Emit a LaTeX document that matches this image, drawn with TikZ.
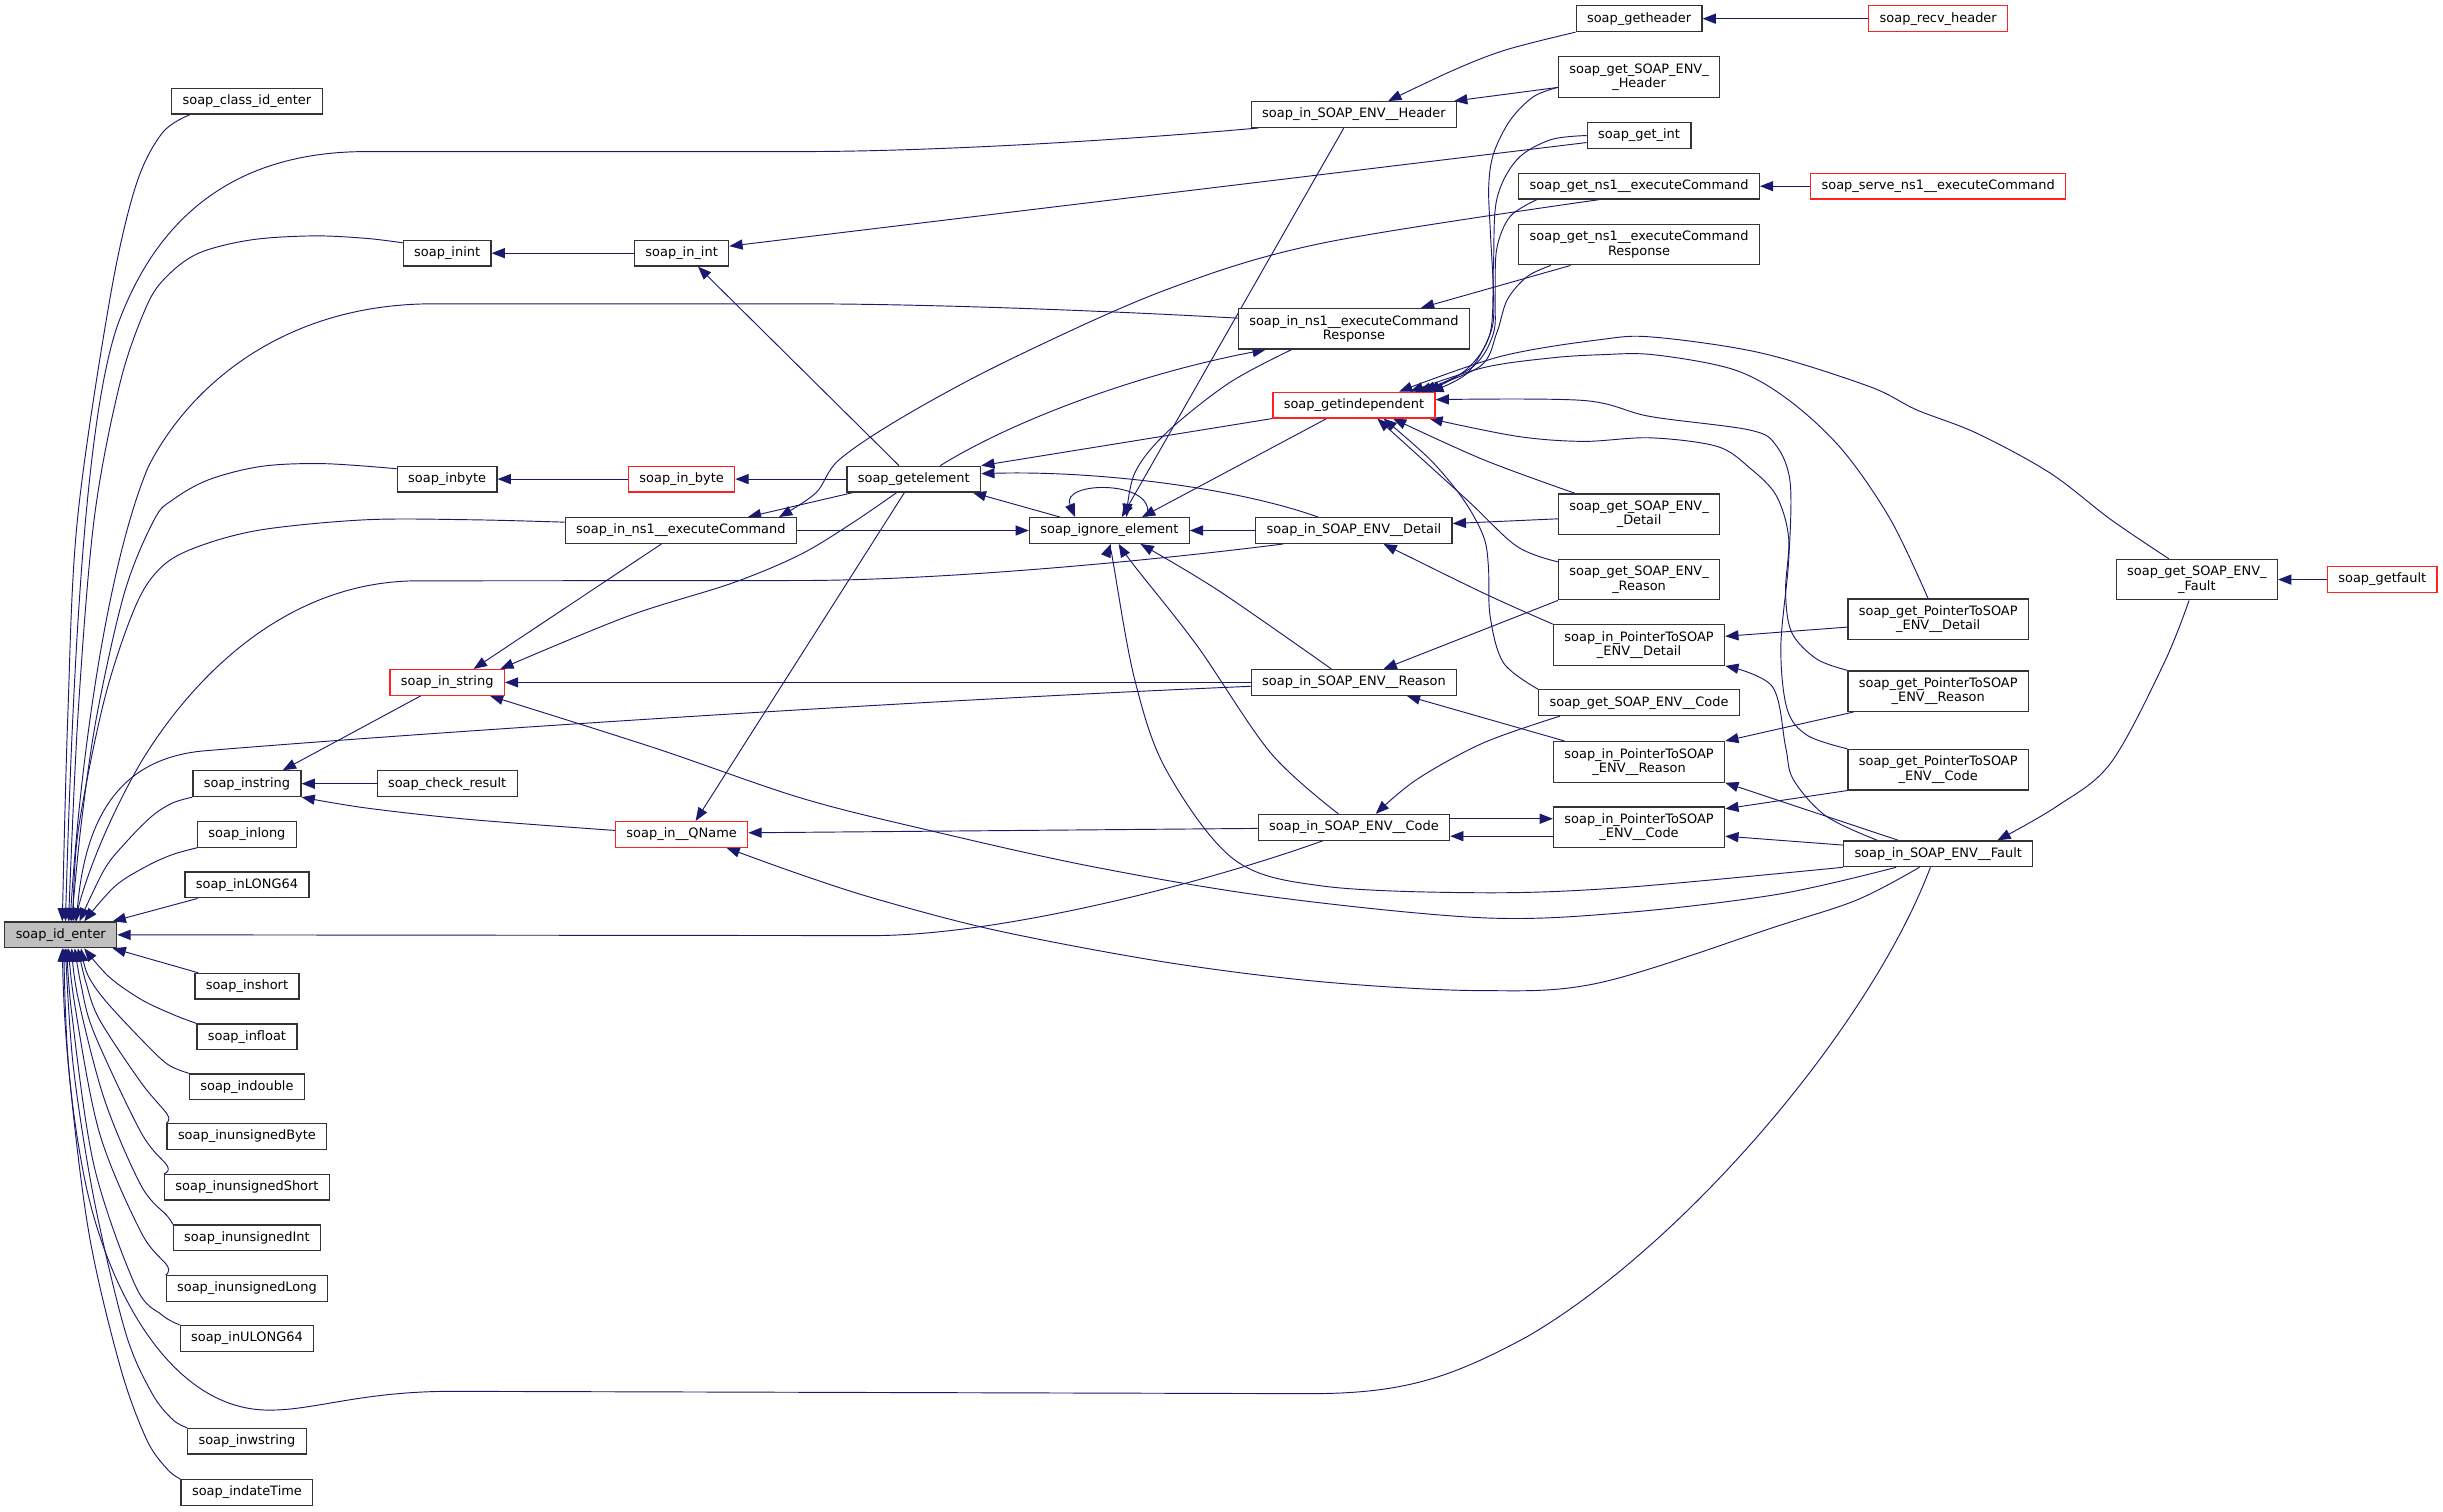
\documentclass[tikz,border=0pt]{standalone}
\usepackage{fontspec}
\setmainfont{DejaVu Sans}
\usetikzlibrary{arrows.meta}
\definecolor{edgeblue}{HTML}{191970}
\definecolor{boxline}{HTML}{333333}
\definecolor{hotred}{HTML}{FF2020}
\definecolor{idfill}{HTML}{BFBFBF}
\newcommand\fnsize{\fontsize{8.3}{9.3}\selectfont}
\pgfdeclarelayer{bg}
\pgfsetlayers{bg,main}
\begin{document}
\begin{tikzpicture}[x=1pt,y=-1pt,
 fn/.style={draw=boxline, line width=0.8pt, fill=white, font=\fnsize, inner xsep=7pt, inner ysep=0pt, minimum height=16.5pt, align=center},
 hot/.style={draw=hotred},
 two/.style={minimum height=26pt},
 calls/.style={draw=edgeblue, line width=0.6pt, -{Triangle[length=8.5pt,width=6.5pt]}},
 sm/.style={smooth, tension=0.55}]
\useasboundingbox (0,0) rectangle (1568,970.4);
% ---------- nodes ----------
\node[fn, fill=idfill] (identer) at (39,600) {soap\_id\_enter};
\node[fn] (classid) at (158.5,65) {soap\_class\_id\_enter};
\node[fn] (inint) at (287,162.5) {soap\_inint};
\node[fn] (inint2) at (437.5,162.5) {soap\_in\_int};
\node[fn] (inbyte) at (287,307.5) {soap\_inbyte};
\node[fn,hot] (inbyte2) at (437.5,307.5) {soap\_in\_byte};
\node[fn] (getel) at (586.5,307.5) {soap\_getelement};
\node[fn] (inexec) at (437,340.5) {soap\_in\_ns1\_\_executeCommand};
\node[fn,hot] (instr) at (287,438) {soap\_in\_string};
\node[fn] (instring) at (158.5,503) {soap\_instring};
\node[fn] (check) at (287,503) {soap\_check\_result};
\node[fn,hot] (qname) at (437.5,535.5) {soap\_in\_\_QName};
\node[fn] (inlong) at (158.5,535.5) {soap\_inlong};
\node[fn] (inL64) at (158.5,568) {soap\_inLONG64};
\node[fn] (inshort) at (158.5,633) {soap\_inshort};
\node[fn] (infloat) at (158.5,665.5) {soap\_infloat};
\node[fn] (indouble) at (158.5,697.5) {soap\_indouble};
\node[fn] (inuByte) at (158.5,729.5) {soap\_inunsignedByte};
\node[fn] (inuShort) at (158.5,762) {soap\_inunsignedShort};
\node[fn] (inuInt) at (158.5,794.5) {soap\_inunsignedInt};
\node[fn] (inuLong) at (158.5,827) {soap\_inunsignedLong};
\node[fn] (inUL64) at (158.5,859) {soap\_inULONG64};
\node[fn] (inwstr) at (158.5,925) {soap\_inwstring};
\node[fn] (indate) at (158.5,958) {soap\_indateTime};
\node[fn] (ignore) at (712,340.5) {soap\_ignore\_element};
\node[fn] (hdr) at (869,73.5) {soap\_in\_SOAP\_ENV\_\_Header};
\node[fn,two] (resp) at (869,211) {soap\_in\_ns1\_\_executeCommand\\Response};
\node[fn,hot] (getind) at (869,260) {soap\_getindependent};
\node[fn] (detail) at (869,340.5) {soap\_in\_SOAP\_ENV\_\_Detail};
\node[fn] (reason) at (869,438) {soap\_in\_SOAP\_ENV\_\_Reason};
\node[fn] (code) at (869,531) {soap\_in\_SOAP\_ENV\_\_Code};
\node[fn] (gethdr) at (1052,12) {soap\_getheader};
\node[fn,two] (getSEH) at (1052,49.5) {soap\_get\_SOAP\_ENV\_\\\_Header};
\node[fn] (getint) at (1052,87) {soap\_get\_int};
\node[fn] (getexec) at (1052,119.5) {soap\_get\_ns1\_\_executeCommand};
\node[fn,two] (getresp) at (1052,157) {soap\_get\_ns1\_\_executeCommand\\Response};
\node[fn,two] (getSED) at (1052,330) {soap\_get\_SOAP\_ENV\_\\\_Detail};
\node[fn,two] (getSER) at (1052,372) {soap\_get\_SOAP\_ENV\_\\\_Reason};
\node[fn,two] (inPD) at (1052,414) {soap\_in\_PointerToSOAP\\\_ENV\_\_Detail};
\node[fn] (getSEC) at (1052,451) {soap\_get\_SOAP\_ENV\_\_Code};
\node[fn,two] (inPR) at (1052,489) {soap\_in\_PointerToSOAP\\\_ENV\_\_Reason};
\node[fn,two] (inPC) at (1052,531) {soap\_in\_PointerToSOAP\\\_ENV\_\_Code};
\node[fn,hot] (recv) at (1244,12) {soap\_recv\_header};
\node[fn,hot] (serve) at (1244,119.5) {soap\_serve\_ns1\_\_executeCommand};
\node[fn,two] (getPD) at (1244,397.5) {soap\_get\_PointerToSOAP\\\_ENV\_\_Detail};
\node[fn,two] (getPR) at (1244,443.6) {soap\_get\_PointerToSOAP\\\_ENV\_\_Reason};
\node[fn,two] (getPC) at (1244,494) {soap\_get\_PointerToSOAP\\\_ENV\_\_Code};
\node[fn] (fault) at (1244,548) {soap\_in\_SOAP\_ENV\_\_Fault};
\node[fn,two] (getSEF) at (1410,372) {soap\_get\_SOAP\_ENV\_\\\_Fault};
\node[fn,hot] (getfault) at (1529,372) {soap\_getfault};
% ---------- edges ----------
\begin{pgfonlayer}{bg}
\fill[white] (0,0) rectangle (1568,970.4);
% callers of soap_id_enter (above)
\draw[calls] plot[sm] coordinates {([xshift=12pt]classid.south west) (104,85.5) (87,119.7) (70.5,192) (49.7,333.5) (43.5,460) ([xshift=1pt]identer.north)};
\draw[calls] ([xshift=5pt]hdr.south west) .. controls (720,90) and (600,97.3) .. (513,97.3) -- (235,97.3) .. controls (150,97.3) and (100,140) .. (75,210) .. controls (55,270) and (47,420) .. ([xshift=3pt]identer.north);
\draw[calls] plot[sm] coordinates {([yshift=-2pt]inint.north west) (235,153) (201,151.4) (161,154) (127.5,162.5) (107,177.5) (94,196.7) (77,246) (60.4,333.5) (50,460) ([xshift=5pt]identer.north)};
\draw[calls] ([yshift=-6.6pt]resp.north west) .. controls (720,200) and (600,195) .. (513,195) -- (278,195) .. controls (180,195) and (120,250) .. (95,300) .. controls (70,360) and (52,480) .. ([xshift=6pt]identer.north);
\draw[calls] plot[sm] coordinates {([yshift=-2pt]inbyte.north west) (208,297.6) (168,299.3) (134,307.9) (111,320.7) (99,333.5) (80,380) (62,460) (52,530) ([xshift=7pt]identer.north)};
\draw[calls] plot[sm] coordinates {([yshift=-3.3pt]inexec.north west) (302,333.6) (235,333.6) (168,340) (127.5,350.7) (104,363.6) (87,389) (67,449) (50,534.6) ([xshift=8pt]identer.north)};
\draw[calls] ([xshift=18pt]detail.south west) .. controls (730,361) and (600,372.6) .. (513,372.6) -- (268,372.8) .. controls (180,373) and (120,440) .. (90,490) .. controls (70,525) and (56,560) .. ([xshift=9pt]identer.north);
\draw[calls] ([yshift=-2.5pt]reason.west) .. controls (600,449) and (300,468) .. (130,482) .. controls (80,487) and (55,520) .. ([xshift=10pt]identer.north);
\draw[calls] plot[sm] coordinates {(instring.south west) (110.7,515.4) (97.3,524) (80.5,541) (67,558) ([xshift=12pt]identer.north)};
\draw[calls] plot[sm] coordinates {(inlong.south west) (110.7,548.5) (94,556) (73.8,568.8) ([xshift=15pt]identer.north)};
\draw[calls] ([xshift=8.5pt]inL64.south west) -- ([xshift=-3pt]identer.north east);
\draw[calls] ([xshift=-20pt]code.south) .. controls (770,568) and (640,600.5) .. (560,600.5) -- (identer.east);
% callers of soap_id_enter (below)
\draw[calls] ([xshift=2.5pt]inshort.north west) -- ([xshift=-3pt]identer.south east);
\draw[calls] plot[sm] coordinates {(infloat.north west) (110.7,651) (90.6,641.5) (70,627) ([xshift=15pt]identer.south)};
\draw[calls] plot[sm] coordinates {(indouble.north west) (107.4,683) (90.6,667) (67,641.5) (56,625) ([xshift=13pt]identer.south)};
\draw[calls] plot[sm] coordinates {(inuByte.north west) (107.4,715.3) (90.6,694.9) (63.8,654.3) (55,630) ([xshift=11pt]identer.south)};
\draw[calls] plot[sm] coordinates {(inuShort.north west) (107.4,748.4) (90.6,727) (60.4,663) (52,632) ([xshift=9pt]identer.south)};
\draw[calls] plot[sm] coordinates {(inuInt.north west) (107.4,780.5) (90.6,761) (67,705.6) (50,640) ([xshift=7pt]identer.south)};
\draw[calls] plot[sm] coordinates {(inuLong.north west) (107.4,812.5) (90.6,791) (63.8,727) (48,645) ([xshift=5pt]identer.south)};
\draw[calls] plot[sm] coordinates {(inUL64.north west) (104,844) (87,825.4) (60.4,748.4) (46,650) ([xshift=4pt]identer.south)};
\draw[calls] ([xshift=-5pt]fault.south) .. controls (1200,660) and (1080,800) .. (980,858) .. controls (930,885) and (900,894.5) .. (840,894.5) -- (290,893) .. controls (230,893) and (200,906) .. (170,905) .. controls (110,903) and (70,830) .. (55,760) .. controls (45,712) and (41,660) .. ([xshift=1pt]identer.south);
\draw[calls] plot[sm] coordinates {(inwstr.north west) (110.7,911) (97.3,893.8) (80.5,855) (60.4,770) (47,684) ([xshift=3pt]identer.south)};
\draw[calls] plot[sm] coordinates {(indate.north west) (107.4,943) (94,923.7) (77,876.7) (57,791) (44,684) ([xshift=2pt]identer.south)};
% int / byte chains
\draw[calls] (inint2.west) -- (inint.east);
\draw[calls] ([yshift=-4.5pt]getint.west) -- ([yshift=4.5pt]inint2.east);
\draw[calls] ([xshift=-9.5pt]getel.north) -- ([xshift=10.5pt]inint2.south);
\draw[calls] (inbyte2.west) -- (inbyte.east);
\draw[calls] (getel.west) -- (inbyte2.east);
% getelement
\draw[calls] (getind.south west) -- (getel.north east);
\draw[calls] ([xshift=-31.7pt]ignore.north) -- ([xshift=37.8pt]getel.south);
\draw[calls] ([xshift=-23pt]detail.north) .. controls (790,312) and (700,302) .. ([yshift=3.5pt]getel.east);
\draw[calls] ([xshift=17pt]getel.north) .. controls (650,270) and (730,240) .. ([xshift=18pt]resp.south west);
\draw[calls] ([xshift=-44pt]getresp.south) -- ([xshift=43pt]resp.north);
% ignore_element
\draw[calls] plot[sm] coordinates {([xshift=-40pt]resp.south) (788.7,245.9) (748.4,278) (728.3,303.6) ([xshift=11pt]ignore.north)};
\draw[calls] ([xshift=-6.5pt]hdr.south) -- ([xshift=8pt]ignore.north);
\draw[calls] ([xshift=-17.5pt]getind.south) -- ([xshift=21pt]ignore.north);
\draw[calls] (inexec.east) -- (ignore.west);
\draw[calls] (detail.west) -- (ignore.east);
\draw[calls] plot[sm] coordinates {([xshift=-14.5pt]reason.north) (782,379) ([xshift=20pt]ignore.south)};
\draw[calls] plot[sm] coordinates {([xshift=-10pt]code.north) (815.5,483.2) (768.6,414.8) (728.3,363.5) ([xshift=6pt]ignore.south)};
\draw[calls] plot[sm] coordinates {(fault.south west) (1040,569.8) (950,573) (849,568.7) (792,551.6) (748.4,494) (728.3,436.2) (714.9,363.5) ([xshift=1pt]ignore.south)};
\draw[calls] ([xshift=24pt]ignore.north) .. controls (744,308) and (680,308) .. ([xshift=-22pt]ignore.north);
% getindependent callers
\draw[calls] plot[sm] coordinates {([yshift=-20pt]getSEH.north west) (984.3,62) (969.4,77) (958.7,98.3) (955.5,119.7) (956.6,149.7) (958.7,192.4) (956.6,213.8) (941.7,239.5) ([xshift=49pt]getind.north)};
\draw[calls] ([yshift=-20pt]getSEH.north west) -- ([xshift=-2pt]hdr.north east);
\draw[calls] plot[sm] coordinates {(getint.west) (994.9,89.8) (973.5,102.6) (960.6,128.3) (958.5,171) (956.4,213.8) (941.4,237) ([xshift=47pt]getind.north)};
\draw[calls] plot[sm] coordinates {([xshift=12pt]getexec.south west) (969.2,139) (960.6,160) (959.6,192) (958.5,214) (945.7,235) ([xshift=44pt]getind.north)};
\draw[calls] plot[sm] coordinates {([xshift=52pt]getexec.south west) (849,156) (748.4,186) (647.7,231) (580.6,267) (538.7,295) (523.6,316.4) ([xshift=63pt]inexec.north)};
\draw[calls] plot[sm] coordinates {([xshift=21pt]getresp.south west) (980.2,177.5) (967.4,192.4) (960.6,213.8) (949.9,235.2) ([xshift=41pt]getind.north)};
\draw[calls] plot[sm] coordinates {([xshift=11pt]getSED.north west) (952,295) ([xshift=25pt]getind.south)};
\draw[calls] ([yshift=-3pt]getSED.west) -- ([yshift=4.5pt]detail.east);
\draw[calls] plot[sm] coordinates {([yshift=-2pt]getSER.north west) (973.5,350.6) (941.4,320.7) ([xshift=15pt]getind.south)};
\draw[calls] (getSER.south west) -- ([xshift=19pt]reason.north);
\draw[calls] plot[sm] coordinates {(inPD.north west) (952,380.6) ([xshift=19pt]detail.south)};
\draw[calls] plot[sm] coordinates {(getSEC.north west) (965,425.5) (956.4,395.5) (955.3,363.5) (952.1,344.2) (939.3,320.7) (917.9,295) ([xshift=19pt]getind.south)};
\draw[calls] plot[sm] coordinates {([xshift=14pt]getSEC.south west) (952.1,476.8) (909.3,500.3) ([xshift=14pt]code.north)};
\draw[calls] ([xshift=7.5pt]inPR.north west) -- ([xshift=34pt]reason.south);
\draw[calls] ([yshift=5.5pt]code.east) -- ([yshift=5.5pt]inPC.west);
\draw[calls] ([yshift=-5.7pt]inPC.west) -- ([yshift=-5.7pt]code.east);
\draw[calls] plot[sm] coordinates {([xshift=-6.5pt]getPD.north) (1213.4,333.5) (1182.3,288.6) (1147.8,256.6) (1113,237.3) (1061.5,227.7) (1027,227.7) (995,229.8) (952,236) ([xshift=36pt]getind.north)};
\draw[calls] plot[sm] coordinates {(getPR.north west) (1166,423) (1150,406) (1146,380) (1148,345) (1140,318) (1123,300.3) (1102,286.5) (1059,281) (1016,283.3) (973.5,280) ([xshift=-4pt]getind.south east)};
\draw[calls] plot[sm] coordinates {(getPC.north west) (1160,472) (1147,455) (1143,415) (1148,360) (1149,310) (1140,286) (1123,276) (1059,267.3) (1016,257) ([yshift=3.5pt]getind.east)};
\draw[calls] plot[sm] coordinates {([xshift=-18pt]getSEF.north) (1354.8,333.5) (1315.8,303.6) (1268.6,278) (1230,263) (1199.6,248) (1130.5,226.6) (1061.5,216.4) (1027,218) (963,228.8) ([xshift=29pt]getind.north)};
% headers, serve, fault chain
\draw[calls] plot[sm] coordinates {(gethdr.south west) (966.6,32) (933,45) ([xshift=22pt]hdr.north)};
\draw[calls] (recv.west) -- (gethdr.east);
\draw[calls] (serve.west) -- (getexec.east);
\draw[calls] ([yshift=-5pt]getPD.west) -- ([yshift=5.6pt]inPD.east);
\draw[calls] ([xshift=4pt]getPR.south west) -- (inPR.north east);
\draw[calls] (getPC.south west) -- ([yshift=-1.5pt]inPC.north east);
\draw[calls] ([yshift=5.6pt]fault.west) -- ([yshift=-5.7pt]inPC.east);
\draw[calls] ([xshift=-25.5pt]fault.north) -- (inPR.south east);
\draw[calls] plot[sm] coordinates {([xshift=-39pt]fault.north) (1172,523.8) (1151,500.3) (1146,479) (1137.4,440.5) (inPD.south east)};
\draw[calls] plot[sm] coordinates {([xshift=-5pt]getSEF.south) (1389,425.5) (1354.8,489.6) (1320.3,517.4) ([xshift=38pt]fault.north)};
\draw[calls] (getfault.west) -- (getSEF.east);
% in_string / instring / QName
\draw[calls] ([xshift=-12.5pt]inexec.south) -- ([xshift=17pt]instr.north);
\draw[calls] plot[sm] coordinates {([xshift=-11pt]getel.south) (547,335.7) (513.5,356) (469.8,374.3) (402.7,395.6) ([xshift=-3pt]instr.north east)};
\draw[calls] (reason.west) -- (instr.east);
\draw[calls] plot[sm] coordinates {([xshift=-27pt]fault.south) (1141,574) (1040,586) (950,589) (815.5,575.5) (700,556) (594,532.4) (513.5,512) (420,480) ([xshift=27.5pt]instr.south)};
\draw[calls] ([xshift=-17pt]instr.south) -- ([xshift=23pt]instring.north);
\draw[calls] (check.west) -- (instring.east);
\draw[calls] plot[sm] coordinates {([yshift=2.5pt]qname.west) (302,526) (235,518.6) (instring.south east)};
\draw[calls] ([xshift=-6pt]getel.south) -- ([xshift=9pt]qname.north);
\draw[calls] ([yshift=-0.7pt]code.west) -- ([yshift=1pt]qname.east);
\draw[calls] plot[sm] coordinates {([xshift=-12pt]fault.south) (1192.6,577.3) (1140.9,594.4) (1027,630.7) (950,635.8) (849,630.2) (748.4,617.6) (641,597.5) (563.8,577.4) (513.5,561.2) ([xshift=-14pt]qname.south east)};
\draw[calls] ([xshift=-39pt]getel.south) -- ([xshift=43pt]inexec.north);
\end{pgfonlayer}
\end{tikzpicture}
\end{document}
